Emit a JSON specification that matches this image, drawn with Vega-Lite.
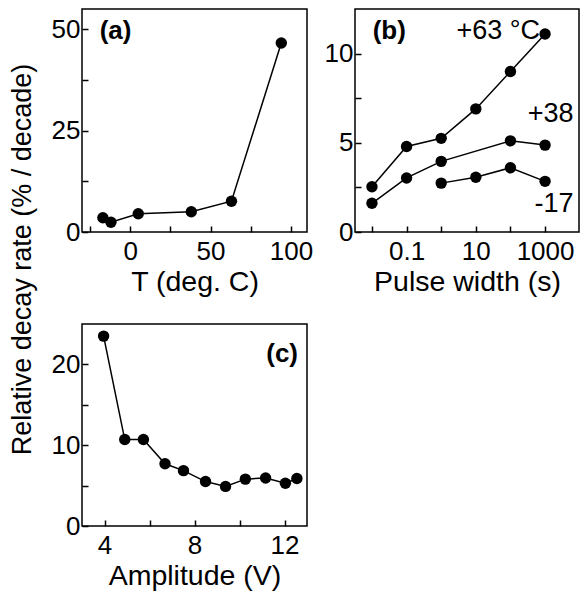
{
  "$schema": "https://vega.github.io/schema/vega-lite/v6.json",
  "padding": {"left": 7, "top": 8, "right": 0, "bottom": 0},
  "background": "white",
  "config": {
    "font": "Liberation Sans",
    "view": {"stroke": "black", "strokeWidth": 1.5},
    "axis": {
      "domain": false,
      "grid": false,
      "ticks": true,
      "tickColor": "black",
      "tickWidth": 1.5,
      "tickOpacity": 1,
      "labelFont": "Liberation Sans",
      "labelFontSize": 26,
      "labelColor": "black",
      "titleFont": "Liberation Sans",
      "titleFontSize": 28.5,
      "titleFontWeight": "normal",
      "titleColor": "black"
    },
    "axisX": {"labelPadding": 12, "titleY": 58, "titleBaseline": "alphabetic"},
    "axisY": {"labelPadding": 8}
  },
  "datasets": {
    "a": [
      {"T": -17, "rate": 3.5},
      {"T": -12, "rate": 2.4},
      {"T": 5, "rate": 4.5},
      {"T": 38, "rate": 5.0},
      {"T": 63, "rate": 7.6},
      {"T": 94, "rate": 46.6}
    ],
    "aLabel": [{"T": -19, "rate": 47.5, "label": "(a)"}],
    "b": [
      {"w": 0.01, "rate": 2.54, "series": "+63"},
      {"w": 0.1, "rate": 4.79, "series": "+63"},
      {"w": 1, "rate": 5.25, "series": "+63"},
      {"w": 10, "rate": 6.9, "series": "+63"},
      {"w": 100, "rate": 9.0, "series": "+63"},
      {"w": 1000, "rate": 11.1, "series": "+63"},
      {"w": 0.01, "rate": 1.61, "series": "+38"},
      {"w": 0.1, "rate": 3.03, "series": "+38"},
      {"w": 1, "rate": 3.96, "series": "+38"},
      {"w": 100, "rate": 5.11, "series": "+38"},
      {"w": 1000, "rate": 4.87, "series": "+38"},
      {"w": 1, "rate": 2.74, "series": "-17"},
      {"w": 10, "rate": 3.07, "series": "-17"},
      {"w": 100, "rate": 3.6, "series": "-17"},
      {"w": 1000, "rate": 2.84, "series": "-17"}
    ],
    "bSeriesLabel": [
      {"w": 720, "rate": 10.8, "label": "+63 °C"},
      {"w": 6600, "rate": 6.15, "label": "+38"},
      {"w": 6600, "rate": 1.14, "label": "-17"}
    ],
    "bLabel": [{"w": 0.0105, "rate": 10.8, "label": "(b)"}],
    "c": [
      {"V": 3.96, "rate": 23.5},
      {"V": 4.9, "rate": 10.7},
      {"V": 5.73, "rate": 10.7},
      {"V": 6.69, "rate": 7.7},
      {"V": 7.51, "rate": 6.85},
      {"V": 8.49, "rate": 5.5},
      {"V": 9.38, "rate": 4.9},
      {"V": 10.26, "rate": 5.8},
      {"V": 11.16, "rate": 5.95},
      {"V": 12.04, "rate": 5.3},
      {"V": 12.55, "rate": 5.87}
    ],
    "cLabel": [{"V": 12.6, "rate": 20.3, "label": "(c)"}]
  },
  "bounds": "flush",
  "columns": 2,
  "spacing": {"row": 92, "column": 48},
  "concat": [
    {
      "width": 225,
      "height": 223,
      "layer": [
        {
          "data": {"name": "a"},
          "mark": {"type": "line", "color": "black", "strokeWidth": 1.5},
          "encoding": {
            "x": {
              "field": "T", "type": "quantitative",
              "scale": {"domain": [-30, 110], "nice": false, "zero": false},
              "axis": {"values": [-25, 0, 25, 50, 75, 100], "labelExpr": "datum.value % 50 == 0 ? datum.label : ''", "title": "T (deg. C)", "tickSize": -6}
            },
            "y": {
              "field": "rate", "type": "quantitative",
              "scale": {"domain": [0, 55], "nice": false},
              "axis": {
                "values": [0, 12.5, 25, 37.5, 50],
                "labelExpr": "datum.value % 25 == 0 ? datum.label : ''",
                "title": "Relative decay rate (% / decade)",
                "tickSize": -6,
                "titleFontSize": 27,
                "titleX": -52, "titleY": 250, "titleAngle": -90,
                "titleAlign": "center", "titleBaseline": "alphabetic"
              }
            }
          }
        },
        {"data": {"name": "a"}, "mark": {"type": "point", "filled": true, "color": "black", "opacity": 1, "size": 130}, "encoding": {"x": {"field": "T", "type": "quantitative"}, "y": {"field": "rate", "type": "quantitative"}}},
        {"data": {"name": "aLabel"}, "mark": {"type": "text", "align": "left", "baseline": "alphabetic", "fontSize": 26, "fontWeight": "bold", "color": "black"}, "encoding": {"x": {"field": "T", "type": "quantitative"}, "y": {"field": "rate", "type": "quantitative"}, "text": {"field": "label"}}}
      ]
    },
    {
      "width": 224,
      "height": 223,
      "layer": [
        {
          "data": {"name": "b"},
          "mark": {"type": "line", "color": "black", "strokeWidth": 1.5},
          "encoding": {
            "x": {
              "field": "w", "type": "quantitative",
              "scale": {"type": "log", "domain": [0.00324, 9550], "nice": false},
              "axis": {"values": [0.01, 0.1, 1, 10, 100, 1000], "labelExpr": "datum.value == 0.1 ? '0.1' : datum.value == 10 ? '10' : datum.value == 1000 ? '1000' : ''", "title": "Pulse width (s)", "tickSize": -6}
            },
            "y": {
              "field": "rate", "type": "quantitative",
              "scale": {"domain": [0, 12.5], "nice": false},
              "axis": {"values": [0, 2.5, 5, 7.5, 10], "labelExpr": "datum.value % 5 == 0 ? datum.label : ''", "title": null, "tickSize": -6}
            },
            "detail": {"field": "series"}
          }
        },
        {"data": {"name": "b"}, "mark": {"type": "point", "filled": true, "color": "black", "opacity": 1, "size": 130}, "encoding": {"x": {"field": "w", "type": "quantitative"}, "y": {"field": "rate", "type": "quantitative"}}},
        {"data": {"name": "bSeriesLabel"}, "mark": {"type": "text", "align": "right", "baseline": "alphabetic", "fontSize": 27, "color": "black"}, "encoding": {"x": {"field": "w", "type": "quantitative"}, "y": {"field": "rate", "type": "quantitative"}, "text": {"field": "label"}}},
        {"data": {"name": "bLabel"}, "mark": {"type": "text", "align": "left", "baseline": "alphabetic", "fontSize": 26, "fontWeight": "bold", "color": "black"}, "encoding": {"x": {"field": "w", "type": "quantitative"}, "y": {"field": "rate", "type": "quantitative"}, "text": {"field": "label"}}}
      ]
    },
    {
      "width": 225,
      "height": 202,
      "layer": [
        {
          "data": {"name": "c"},
          "mark": {"type": "line", "color": "black", "strokeWidth": 1.5},
          "encoding": {
            "x": {
              "field": "V", "type": "quantitative",
              "scale": {"domain": [3, 13], "nice": false, "zero": false},
              "axis": {"values": [4, 6, 8, 10, 12], "labelExpr": "datum.value % 4 == 0 ? datum.label : ''", "title": "Amplitude (V)", "tickSize": -6}
            },
            "y": {
              "field": "rate", "type": "quantitative",
              "scale": {"domain": [0, 25], "nice": false},
              "axis": {"values": [0, 5, 10, 15, 20], "labelExpr": "datum.value % 10 == 0 ? datum.label : ''", "title": null, "tickSize": -6}
            }
          }
        },
        {"data": {"name": "c"}, "mark": {"type": "point", "filled": true, "color": "black", "opacity": 1, "size": 130}, "encoding": {"x": {"field": "V", "type": "quantitative"}, "y": {"field": "rate", "type": "quantitative"}}},
        {"data": {"name": "cLabel"}, "mark": {"type": "text", "align": "right", "baseline": "alphabetic", "fontSize": 26, "fontWeight": "bold", "color": "black"}, "encoding": {"x": {"field": "V", "type": "quantitative"}, "y": {"field": "rate", "type": "quantitative"}, "text": {"field": "label"}}}
      ]
    }
  ]
}
